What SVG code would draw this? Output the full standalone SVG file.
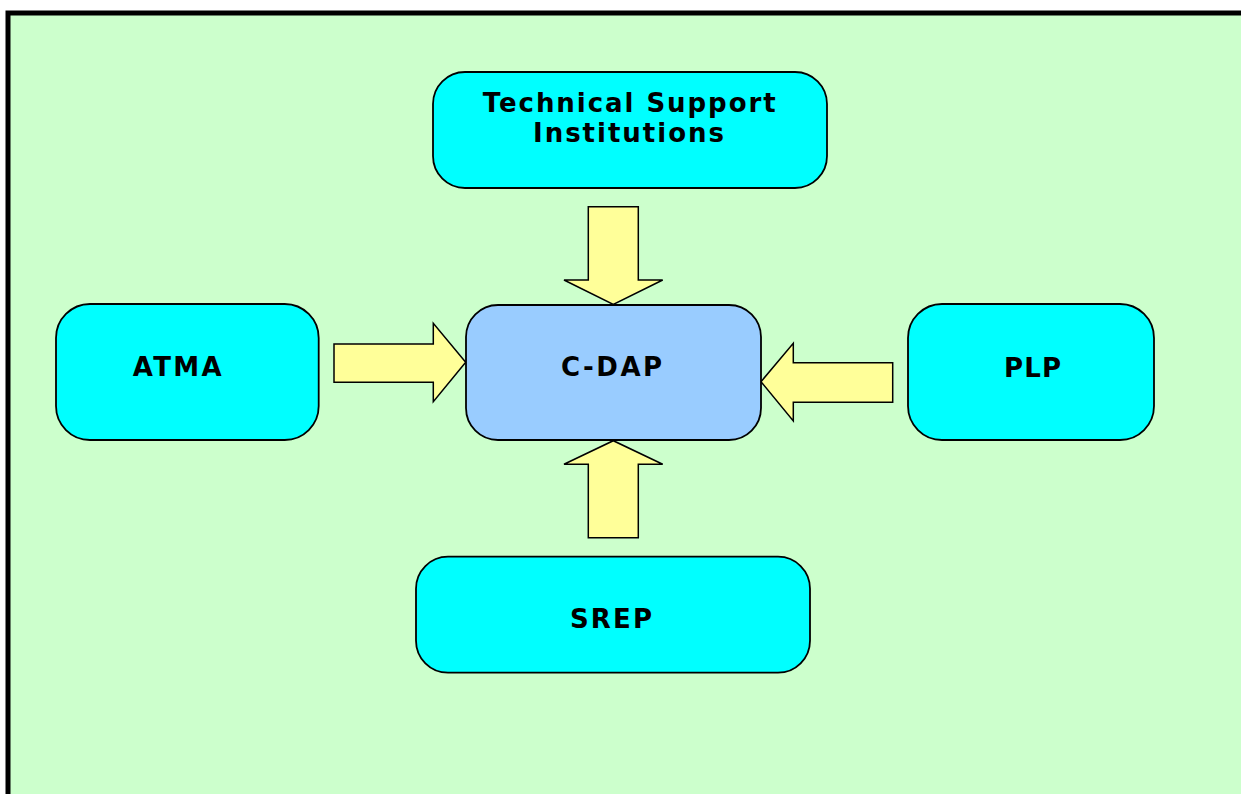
<svg xmlns="http://www.w3.org/2000/svg" width="1241" height="794" viewBox="0 0 1241 794">
<style>
.node{fill:#00FFFF;stroke:#000;stroke-width:1.8}
.center{fill:#99CCFF;stroke:#000;stroke-width:1.8}
.arrow{fill:#FFFF99;stroke:#000;stroke-width:1.5;stroke-linejoin:miter}
.lbl{font-family:"DejaVu Sans",Verdana,sans-serif;font-weight:bold;font-size:26px;fill:#000}
</style>
<rect x="0" y="0" width="1241" height="794" fill="#FFFFFF"/>
<rect x="8" y="13" width="1250" height="800" fill="#CCFFCC" stroke="#000" stroke-width="5"/>
<g id="connectors">
<polygon class="arrow" points="588.3,206.7 638.3,206.7 638.3,280 662.7,280 613.3,304.3 564,280 588.3,280"/>
<polygon class="arrow" points="588.3,537.7 638.3,537.7 638.3,464.3 662.7,464.3 613.3,440.7 564,464.3 588.3,464.3"/>
<polygon class="arrow" points="334,344 433.3,344 433.3,323.3 465.7,362.3 433.3,401.7 433.3,382.3 334,382.3"/>
<polygon class="arrow" points="892.7,362.7 793.3,362.7 793.3,343.3 761,381.7 793.3,421 793.3,402.3 892.7,402.3"/>
</g>
<g id="tsi">
<rect class="node" x="433" y="72" width="394" height="116" rx="32" ry="32"/>
<text class="lbl" x="482.7" y="111.7" textLength="293" lengthAdjust="spacing">Technical Support</text>
<text class="lbl" x="533" y="141.7" textLength="191" lengthAdjust="spacing">Institutions</text>
</g>
<g id="atma">
<rect class="node" x="56" y="304" width="262.7" height="136" rx="34" ry="34"/>
<text class="lbl" x="132.7" y="376" textLength="89" lengthAdjust="spacing">ATMA</text>
</g>
<g id="cdap">
<rect class="center" x="466" y="305" width="295" height="135" rx="32" ry="32"/>
<text class="lbl" x="561" y="376" textLength="101" lengthAdjust="spacing">C-DAP</text>
</g>
<g id="plp">
<rect class="node" x="908" y="304" width="246" height="136" rx="34" ry="34"/>
<text class="lbl" x="1004" y="376.7" textLength="57" lengthAdjust="spacing">PLP</text>
</g>
<g id="srep">
<rect class="node" x="416" y="556.7" width="394" height="116" rx="32" ry="32"/>
<text class="lbl" x="570" y="628.3" textLength="82" lengthAdjust="spacing">SREP</text>
</g>
</svg>
